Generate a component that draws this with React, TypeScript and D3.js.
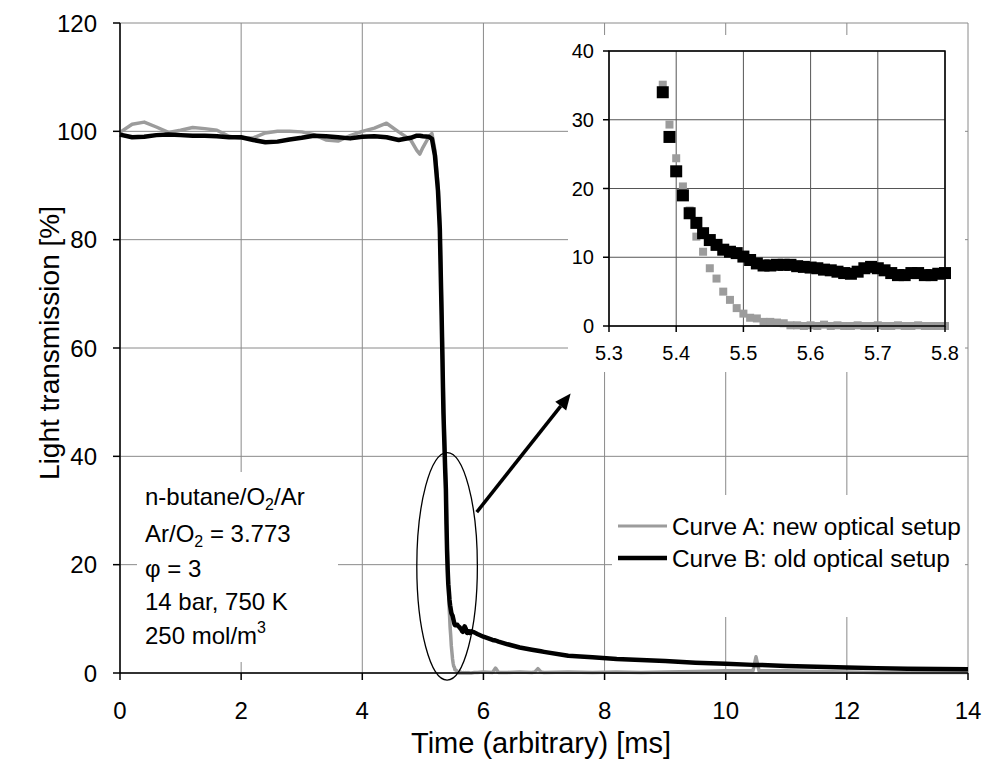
import React from 'react';
import * as d3 from 'd3';

// main trace before the drop (ms / %)
const preTime = [0, 0.2, 0.4, 0.6, 0.8, 1.0, 1.2, 1.4, 1.6, 1.8, 2.0, 2.2, 2.4, 2.6, 2.8, 3.0, 3.2, 3.4, 3.6, 3.8, 4.0, 4.2, 4.4, 4.6, 4.8, 4.9, 4.95, 5.0, 5.1, 5.15, 5.2, 5.25, 5.28, 5.31, 5.34, 5.37];
const preA = [99.8, 101.3, 101.7, 100.8, 99.8, 100.2, 100.7, 100.5, 100.2, 99.1, 98.7, 98.8, 99.7, 100.0, 100.0, 99.9, 99.4, 98.4, 98.2, 99.2, 100.0, 100.6, 101.5, 99.9, 98.4, 96.5, 95.8, 97.0, 99.0, 99.6, 96.5, 90, 83, 68, 51, 38];
const preB = [99.4, 98.9, 99.0, 99.3, 99.4, 99.3, 99.2, 99.2, 99.1, 98.9, 98.9, 98.4, 98.0, 98.1, 98.5, 98.8, 99.2, 99.1, 98.9, 98.7, 99.0, 99.1, 98.9, 98.4, 98.8, 99.2, 99.2, 99.1, 99.0, 98.6, 95.5, 89, 82, 66, 48, 37];

// zoomed region (also shown in the inset)
const insetTime = [5.38, 5.39, 5.40, 5.41, 5.42, 5.43, 5.44, 5.45, 5.46, 5.47, 5.48, 5.49, 5.50, 5.51, 5.52, 5.53, 5.54, 5.55, 5.56, 5.57, 5.58, 5.59, 5.60, 5.61, 5.62, 5.63, 5.64, 5.65, 5.66, 5.67, 5.68, 5.69, 5.70, 5.71, 5.72, 5.73, 5.74, 5.75, 5.76, 5.77, 5.78, 5.79, 5.80];
const insetA = [35.1, 29.3, 24.4, 20.3, 16.8, 13.0, 10.8, 8.4, 6.9, 5.0, 3.8, 2.6, 1.8, 1.2, 1.1, 0.6, 0.6, 0.5, 0.4, 0.1, 0.1, 0.0, 0.1, 0.0, 0.2, 0.0, 0.1, 0.0, 0.0, 0.1, 0.0, 0.0, 0.1, 0.0, 0.0, 0.1, 0.0, 0.0, 0.1, 0.0, 0.0, 0.0, 0.0];
const insetB = [34.0, 27.5, 22.5, 19.0, 16.4, 15.0, 13.5, 12.5, 11.8, 11.1, 10.8, 10.6, 10.1, 9.6, 9.1, 8.8, 8.8, 8.9, 8.9, 8.9, 8.7, 8.6, 8.5, 8.4, 8.2, 8.1, 7.9, 7.7, 7.6, 7.9, 8.4, 8.6, 8.4, 8.1, 7.7, 7.4, 7.4, 7.7, 7.7, 7.4, 7.4, 7.6, 7.7];

// tail after the drop
const postTime = [5.85, 5.9, 6.0, 6.15, 6.2, 6.25, 6.4, 6.6, 6.8, 6.85, 6.9, 6.95, 7.0, 7.4, 7.8, 8.2, 8.6, 9.0, 9.5, 10.0, 10.45, 10.5, 10.55, 11.0, 11.5, 12.0, 12.5, 13.0, 13.5, 14.0];
const postA = [0.1, 0.1, 0.2, 0.1, 0.9, 0.1, 0.1, 0.2, 0.1, 0.2, 0.8, 0.2, 0.1, 0.2, 0.1, 0.2, 0.1, 0.2, 0.3, 0.4, 0.4, 3.0, 0.4, 0.4, 0.3, 0.2, 0.1, 0.1, 0.1, 0.1];
const postB = [7.5, 7.2, 6.7, 6.1, 6.0, 5.8, 5.3, 4.7, 4.3, 4.2, 4.1, 4.0, 3.9, 3.2, 2.9, 2.6, 2.4, 2.2, 1.9, 1.7, 1.5, 1.5, 1.5, 1.3, 1.15, 1.0, 0.9, 0.8, 0.75, 0.7];

const xTicks = [0, 2, 4, 6, 8, 10, 12, 14];
const yTicks = [0, 20, 40, 60, 80, 100, 120];
const insetXTicks = [5.3, 5.4, 5.5, 5.6, 5.7, 5.8];
const insetYTicks = [0, 10, 20, 30, 40];

const legendLabels = ['Curve A: new optical setup', 'Curve B: old optical setup'];

const FONT = 'Liberation Sans, Arial, sans-serif';
const GRAY = '#9c9c9c';
const GRID = '#8a8a8a';

export default function App() {
  const x = d3.scaleLinear().domain([0, 14]).range([120, 968]);
  const y = d3.scaleLinear().domain([0, 120]).range([673, 23]);
  const ix = d3.scaleLinear().domain([5.3, 5.8]).range([609, 945]);
  const iy = d3.scaleLinear().domain([0, 40]).range([326, 51]);

  const allTime = [...preTime, ...insetTime, ...postTime];
  const seriesA = [...preA, ...insetA, ...postA].map((v, i) => [allTime[i], v] as [number, number]);
  const seriesB = [...preB, ...insetB, ...postB].map((v, i) => [allTime[i], v] as [number, number]);

  const line = d3
    .line<[number, number]>()
    .x((d) => x(d[0]))
    .y((d) => y(d[1]));

  // ellipse and arrow in data units
  const ell = { t: 5.4, v: 19.7, rt: 0.5, rv: 21 };
  const arrow = { t0: 5.89, v0: 29.7, t1: 7.44, v1: 51.6 };
  const ax0 = x(arrow.t0), ay0 = y(arrow.v0), ax1 = x(arrow.t1), ay1 = y(arrow.v1);
  const ang = Math.atan2(ay1 - ay0, ax1 - ax0);
  const hl = 16, hw = 7;
  const bx = ax1 - hl * Math.cos(ang), by = ay1 - hl * Math.sin(ang);
  const head = [
    [ax1, ay1],
    [bx + hw * Math.sin(ang), by - hw * Math.cos(ang)],
    [bx - hw * Math.sin(ang), by + hw * Math.cos(ang)],
  ];

  return (
    <svg width={987} height={769} style={{ position: 'absolute', left: 0, top: 0, background: '#fff' }} fontFamily={FONT}>
      {/* grid */}
      <g stroke={GRID} strokeWidth={1}>
        {xTicks.map((t) => (
          <line key={'gx' + t} x1={x(t)} x2={x(t)} y1={y(120)} y2={y(0)} />
        ))}
        {yTicks.map((t) => (
          <line key={'gy' + t} x1={x(0)} x2={x(14)} y1={y(t)} y2={y(t)} />
        ))}
      </g>

      {/* white boxes covering the grid */}
      <rect x={137} y={472} width={201} height={190} fill="#fff" />
      <rect x={612} y={495} width={353} height={122} fill="#fff" />
      <rect x={568} y={35} width={397} height={337} fill="#fff" />

      {/* curves */}
      <path d={line(seriesA) || ''} fill="none" stroke={GRAY} strokeWidth={3.5} strokeLinejoin="round" />
      <path d={line(seriesB) || ''} fill="none" stroke="#000" strokeWidth={4.5} strokeLinejoin="round" />

      {/* axes */}
      <g stroke="#000" strokeWidth={1.5}>
        <line x1={x(0)} x2={x(0)} y1={y(120)} y2={y(0)} />
        <line x1={x(0)} x2={x(14)} y1={y(0)} y2={y(0)} />
        {yTicks.map((t) => (
          <line key={'ty' + t} x1={x(0) - 7} x2={x(0)} y1={y(t)} y2={y(t)} />
        ))}
        {xTicks.map((t) => (
          <line key={'tx' + t} x1={x(t)} x2={x(t)} y1={y(0)} y2={y(0) + 7} />
        ))}
      </g>
      <g fontSize={24} fill="#000">
        {yTicks.map((t) => (
          <text key={'ly' + t} x={97} y={y(t)} dy="0.36em" textAnchor="end">
            {t}
          </text>
        ))}
        {xTicks.map((t) => (
          <text key={'lx' + t} x={x(t)} y={719} textAnchor="middle">
            {t}
          </text>
        ))}
      </g>
      <text x={541} y={753} fontSize={29} textAnchor="middle" fill="#000">
        Time (arbitrary) [ms]
      </text>
      <text transform="translate(59,343) rotate(-90)" fontSize={28} textAnchor="middle" fill="#000">
        Light transmission [%]
      </text>

      {/* ellipse + arrow */}
      <ellipse
        cx={x(ell.t)}
        cy={y(ell.v)}
        rx={x(ell.t + ell.rt) - x(ell.t)}
        ry={y(ell.v - ell.rv) - y(ell.v)}
        fill="none"
        stroke="#000"
        strokeWidth={1.3}
      />
      <line x1={ax0} y1={ay0} x2={bx} y2={by} stroke="#000" strokeWidth={3.5} />
      <polygon points={head.map((p) => p.join(',')).join(' ')} fill="#000" />

      {/* conditions */}
      <g fontSize={24} fill="#000">
        <text x={145} y={505}>
          n-butane/O<tspan fontSize={16} dy={5}>2</tspan>
          <tspan dy={-5}>/Ar</tspan>
        </text>
        <text x={145} y={542}>
          Ar/O<tspan fontSize={16} dy={5}>2</tspan>
          <tspan dy={-5}> = 3.773</tspan>
        </text>
        <text x={145} y={577}>φ = 3</text>
        <text x={145} y={610}>14 bar, 750 K</text>
        <text x={145} y={644}>
          250 mol/m<tspan fontSize={16} dy={-11}>3</tspan>
        </text>
      </g>

      {/* legend */}
      <line x1={618} x2={667} y1={526} y2={526} stroke={GRAY} strokeWidth={3} />
      <line x1={618} x2={667} y1={558} y2={558} stroke="#000" strokeWidth={4.5} />
      <g fontSize={24.4} fill="#000">
        <text x={672} y={526} dy="0.36em">{legendLabels[0]}</text>
        <text x={672} y={558} dy="0.36em">{legendLabels[1]}</text>
      </g>

      {/* inset */}
      <g stroke="#555" strokeWidth={1}>
        {insetXTicks.map((t) => (
          <line key={'igx' + t} x1={ix(t)} x2={ix(t)} y1={iy(40)} y2={iy(0)} />
        ))}
        {insetYTicks.map((t) => (
          <line key={'igy' + t} x1={ix(5.3)} x2={ix(5.8)} y1={iy(t)} y2={iy(t)} />
        ))}
      </g>
      <g fill={GRAY}>
        {insetTime.map((t, i) => (
          <rect key={'ia' + i} x={ix(t) - 4} y={iy(insetA[i]) - 4} width={8} height={8} />
        ))}
      </g>
      <g fill="#000">
        {insetTime.map((t, i) => (
          <rect key={'ib' + i} x={ix(t) - 6} y={iy(insetB[i]) - 6} width={12} height={12} />
        ))}
      </g>
      <g stroke="#000" strokeWidth={1.5} fill="none">
        <rect x={ix(5.3)} y={iy(40)} width={ix(5.8) - ix(5.3)} height={iy(0) - iy(40)} />
        {insetYTicks.map((t) => (
          <line key={'ity' + t} x1={ix(5.3) - 6} x2={ix(5.3)} y1={iy(t)} y2={iy(t)} />
        ))}
        {insetXTicks.map((t) => (
          <line key={'itx' + t} x1={ix(t)} x2={ix(t)} y1={iy(0)} y2={iy(0) + 6} />
        ))}
      </g>
      <g fontSize={20} fill="#000">
        {insetYTicks.map((t) => (
          <text key={'ily' + t} x={594} y={iy(t)} dy="0.36em" textAnchor="end">
            {t}
          </text>
        ))}
        {insetXTicks.map((t) => (
          <text key={'ilx' + t} x={ix(t)} y={360} textAnchor="middle">
            {t.toFixed(1)}
          </text>
        ))}
      </g>
    </svg>
  );
}
